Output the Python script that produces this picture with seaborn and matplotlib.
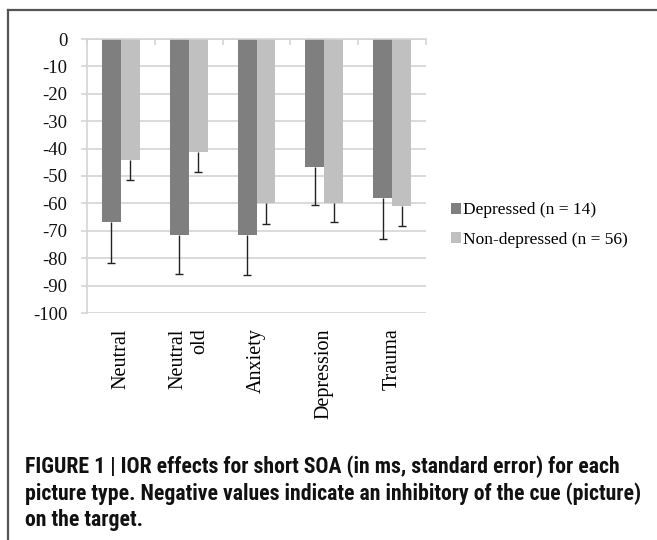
import numpy as np
import pandas as pd
import matplotlib
matplotlib.use("Agg")
import matplotlib.pyplot as plt
from matplotlib import font_manager
from matplotlib.lines import Line2D
from matplotlib.patches import Patch
import seaborn as sns

# ---- data ----
categories = ["Neutral", "Neutral\nold", "Anxiety", "Depression", "Trauma"]
groups = ["Depressed (n = 14)", "Non-depressed (n = 56)"]
depressed = [-66.8, -71.7, -71.5, -46.6, -58.0]
depressed_se = [15.1, 14.2, 14.8, 14.1, 14.9]
nondepressed = [-44.2, -41.4, -59.9, -59.9, -60.9]
nondepressed_se = [7.4, 7.1, 7.7, 6.9, 7.4]
yticks = list(range(-100, 1, 10))
caption_lines = [
    "FIGURE 1 | IOR effects for short SOA (in ms, standard error) for each",
    "picture type. Negative values indicate an inhibitory of the cue (picture)",
    "on the target.",
]

colors = ["#7f7f7f", "#c0c0c0"]
grid_gray = "#d4d4d4"

available = {f.name for f in font_manager.fontManager.ttflist}
serif = "Liberation Serif" if "Liberation Serif" in available else "DejaVu Serif"
cap_font = "Liberation Sans"
for cand in ["Liberation Sans Narrow", "DejaVu Sans Condensed", "Roboto Condensed", "Liberation Sans"]:
    if cand in available:
        cap_font = cand
        break

df = pd.DataFrame({
    "category": categories * 2,
    "group": [groups[0]] * len(categories) + [groups[1]] * len(categories),
    "value": depressed + nondepressed,
})
errs = [depressed_se, nondepressed_se]

fig = plt.figure(figsize=(6.57, 5.40), dpi=100)
ax = fig.add_axes([87 / 657, 1 - 313 / 540, (426 - 87) / 657, (313 - 39) / 540])

sns.barplot(data=df, x="category", y="value", hue="group", order=categories,
            hue_order=groups, palette=colors, saturation=1, width=0.56,
            errorbar=None, legend=False, linewidth=0, ax=ax)

for cont, se in zip(ax.containers, errs):
    xs = [b.get_x() + b.get_width() / 2 for b in cont]
    ys = [b.get_y() + b.get_height() for b in cont]
    eb = ax.errorbar(xs, ys, yerr=[se, [0] * len(se)], fmt="none", ecolor="#222222",
                     elinewidth=1, capsize=3.2, capthick=1, zorder=3)
    # keep only the cap at the far (lower) end of each bar
    caplines = eb[1]
    if len(caplines) > 1:
        caplines[1].set_visible(False)

ax.set_xlim(-0.5, len(categories) - 0.5)
ax.set_ylim(-100, 0)
ax.set_yticks(yticks)
ax.set_yticklabels([str(t) for t in yticks], fontfamily=serif, fontsize=13.5)
ax.set_xlabel("")
ax.set_ylabel("")
ax.set_axisbelow(True)
ax.yaxis.grid(True, color=grid_gray, linewidth=1.2)
ax.xaxis.grid(False)

for s in ["right", "bottom"]:
    ax.spines[s].set_visible(False)
for s in ["top", "left"]:
    ax.spines[s].set_color(grid_gray)
    ax.spines[s].set_linewidth(1.2)

ax.tick_params(axis="y", length=4, color=grid_gray, width=1.2, pad=10, labelcolor="#111111")
ax.set_xticks(range(len(categories)))
ax.set_xticklabels(categories, rotation=90, fontfamily=serif, fontsize=14.5,
                   va="top", ha="center", multialignment="right")
ax.tick_params(axis="x", which="major", length=0, pad=11)
ax.set_xticks(np.arange(-0.5, len(categories), 1), minor=True)
ax.tick_params(axis="x", which="minor", top=True, bottom=False, direction="in",
               length=4, color=grid_gray, width=1.2)

handles = [Patch(facecolor=c, edgecolor="none") for c in colors]
fig.legend(handles, groups, loc="center left", bbox_to_anchor=(451 / 657, 1 - 225 / 540),
           frameon=False, prop={"family": serif, "size": 12.5}, handlelength=0.55,
           handleheight=0.55, handletextpad=0.15, labelspacing=0.75, borderpad=0,
           borderaxespad=0)

# frame border (top and left visible)
fig.add_artist(Line2D([8 / 657, 1], [1 - 10 / 540, 1 - 10 / 540], transform=fig.transFigure,
                      color="#555555", linewidth=1.6))
fig.add_artist(Line2D([8 / 657, 8 / 657], [0, 1 - 10 / 540], transform=fig.transFigure,
                      color="#555555", linewidth=1.6))

# caption
baselines = [473, 500, 526]
texts = []
for line, b in zip(caption_lines, baselines):
    t = fig.text(25 / 657, 1 - b / 540, line, fontfamily=cap_font, fontweight="bold",
                 fontsize=11.5, va="baseline", ha="left", color="#111111")
    texts.append(t)
fig.canvas.draw()
r = fig.canvas.get_renderer()
w = texts[0].get_window_extent(r).width
scale = 598 / w
for t in texts:
    t.set_fontsize(11.5 * scale)

fig.savefig("out.png", dpi=100)
